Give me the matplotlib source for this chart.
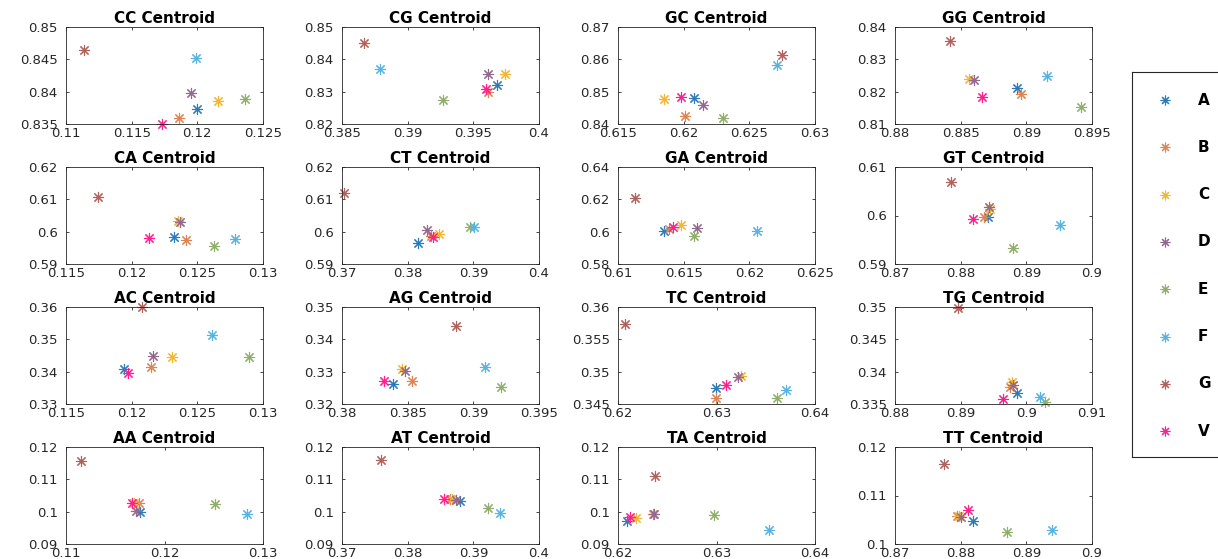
import matplotlib
matplotlib.use('Agg')
import matplotlib.pyplot as plt

# series (same order in every panel)
labels = ['A', 'B', 'C', 'D', 'E', 'F', 'G', 'V']
colors = ['#2b7bba', '#dd8452', '#f2b632', '#94698f', '#8fae6a',
          '#56b4e5', '#b0625c', '#ff1f8f']

titles = ['CC', 'CG', 'GC', 'GG', 'CA', 'CT', 'GA', 'GT',
          'AC', 'AG', 'TC', 'TG', 'AA', 'AT', 'TA', 'TT']

cc_x = [0.1200, 0.1186, 0.1216, 0.1195, 0.1236, 0.1199, 0.1114, 0.1173]
cc_y = [0.8373, 0.8360, 0.8385, 0.8398, 0.8389, 0.8452, 0.8465, 0.8350]
cg_x = [0.3968, 0.3961, 0.3974, 0.3961, 0.3927, 0.3879, 0.3867, 0.3960]
cg_y = [0.8322, 0.8298, 0.8355, 0.8356, 0.8274, 0.8371, 0.8450, 0.8308]
gc_x = [0.6208, 0.6201, 0.6185, 0.6215, 0.6230, 0.6271, 0.6275, 0.6198]
gc_y = [0.8480, 0.8425, 0.8477, 0.8458, 0.8419, 0.8581, 0.8614, 0.8482]
gg_x = [0.8893, 0.8896, 0.8856, 0.8860, 0.8942, 0.8916, 0.8842, 0.8866]
gg_y = [0.8212, 0.8194, 0.8239, 0.8237, 0.8154, 0.8247, 0.8357, 0.8184]
ca_x = [0.1232, 0.1241, 0.1235, 0.1237, 0.1263, 0.1279, 0.1174, 0.1213]
ca_y = [0.5983, 0.5973, 0.6033, 0.6030, 0.5957, 0.5978, 0.6106, 0.5981]
ct_x = [0.3815, 0.3835, 0.3848, 0.3830, 0.3895, 0.3901, 0.3703, 0.3839]
ct_y = [0.5966, 0.5987, 0.5992, 0.6006, 0.6014, 0.6014, 0.6119, 0.5985]
ga_x = [0.6135, 0.6139, 0.6148, 0.6160, 0.6158, 0.6206, 0.6113, 0.6142]
ga_y = [0.6007, 0.6015, 0.6040, 0.6021, 0.5972, 0.6007, 0.6208, 0.6026]
gt_x = [0.8841, 0.8836, 0.8845, 0.8843, 0.8879, 0.8951, 0.8785, 0.8819]
gt_y = [0.5997, 0.5997, 0.6014, 0.6018, 0.5934, 0.5981, 0.6070, 0.5992]
ac_x = [0.1194, 0.1215, 0.1231, 0.1216, 0.1289, 0.1261, 0.1208, 0.1197]
ac_y = [0.3407, 0.3413, 0.3445, 0.3449, 0.3446, 0.3512, 0.3599, 0.3395]
ag_x = [0.3839, 0.3853, 0.3846, 0.3848, 0.3921, 0.3909, 0.3887, 0.3832]
ag_y = [0.3261, 0.3271, 0.3309, 0.3302, 0.3252, 0.3313, 0.3441, 0.3272]
tc_x = [0.6299, 0.6299, 0.6325, 0.6322, 0.6361, 0.6371, 0.6207, 0.6310]
tc_y = [0.3475, 0.3459, 0.3494, 0.3491, 0.3459, 0.3472, 0.3574, 0.3479]
tg_x = [0.8986, 0.8975, 0.8978, 0.8980, 0.9028, 0.9021, 0.8896, 0.8964]
tg_y = [0.3367, 0.3376, 0.3384, 0.3379, 0.3353, 0.3361, 0.3499, 0.3358]
aa_x = [0.1175, 0.1174, 0.1169, 0.1171, 0.1251, 0.1284, 0.1115, 0.1167]
aa_y = [0.0999, 0.1027, 0.1027, 0.1002, 0.1024, 0.0993, 0.1157, 0.1027]
at_x = [0.3879, 0.3865, 0.3868, 0.3874, 0.3922, 0.3940, 0.3760, 0.3856]
at_y = [0.1033, 0.1039, 0.1039, 0.1037, 0.1011, 0.0996, 0.1160, 0.1039]
ta_x = [0.6209, 0.6236, 0.6218, 0.6237, 0.6297, 0.6353, 0.6238, 0.6212]
ta_y = [0.0971, 0.0993, 0.0980, 0.0993, 0.0990, 0.0943, 0.1110, 0.0984]
tt_x = [0.8819, 0.8794, 0.8797, 0.8800, 0.8871, 0.8939, 0.8775, 0.8811]
tt_y = [0.1047, 0.1058, 0.1058, 0.1056, 0.1025, 0.1029, 0.1165, 0.1070]

# tick values per panel (first/last = axis limits)
xticks = [[0.11, 0.115, 0.12, 0.125], [0.385, 0.39, 0.395, 0.4],
          [0.615, 0.62, 0.625, 0.63], [0.88, 0.885, 0.89, 0.895],
          [0.115, 0.12, 0.125, 0.13], [0.37, 0.38, 0.39, 0.4],
          [0.61, 0.615, 0.62, 0.625], [0.87, 0.88, 0.89, 0.9],
          [0.115, 0.12, 0.125, 0.13], [0.38, 0.385, 0.39, 0.395],
          [0.62, 0.63, 0.64], [0.88, 0.89, 0.9, 0.91],
          [0.11, 0.12, 0.13], [0.37, 0.38, 0.39, 0.4],
          [0.62, 0.63, 0.64], [0.87, 0.88, 0.89, 0.9]]
yticks = [[0.835, 0.84, 0.845, 0.85], [0.82, 0.83, 0.84, 0.85],
          [0.84, 0.85, 0.86, 0.87], [0.81, 0.82, 0.83, 0.84],
          [0.59, 0.6, 0.61, 0.62], [0.59, 0.6, 0.61, 0.62],
          [0.58, 0.6, 0.62, 0.64], [0.59, 0.6, 0.61],
          [0.33, 0.34, 0.35, 0.36], [0.32, 0.33, 0.34, 0.35],
          [0.345, 0.35, 0.355, 0.36], [0.335, 0.34, 0.345, 0.35],
          [0.09, 0.1, 0.11, 0.12], [0.09, 0.1, 0.11, 0.12],
          [0.09, 0.1, 0.11, 0.12], [0.1, 0.11, 0.12]]

xs = [cc_x, cg_x, gc_x, gg_x, ca_x, ct_x, ga_x, gt_x,
      ac_x, ag_x, tc_x, tg_x, aa_x, at_x, ta_x, tt_x]
ys = [cc_y, cg_y, gc_y, gg_y, ca_y, ct_y, ga_y, gt_y,
      ac_y, ag_y, tc_y, tg_y, aa_y, at_y, ta_y, tt_y]

W, H = 1218, 559
fig = plt.figure(figsize=(W / 100, H / 100), dpi=100)

col_left = [66, 342, 618, 895]
row_top = [27, 167, 307, 447]
aw, ah = 197, 97
star = (8, 2, 0)  # 8-spoke asterisk, like matlab '*'
axcol = '#262626'


def fmt(v):
    return ('%g' % v)


for k in range(16):
    r, c = divmod(k, 4)
    ax = fig.add_axes([col_left[c] / W, 1 - (row_top[r] + ah) / H, aw / W, ah / H])
    for i in range(len(labels)):
        ax.plot(xs[k][i], ys[k][i], linestyle='none', marker=star,
                ms=8, mew=0.8, color=colors[i], clip_on=False)
    ax.set_xlim(xticks[k][0], xticks[k][-1])
    ax.set_ylim(yticks[k][0], yticks[k][-1])
    ax.set_xticks(xticks[k])
    ax.set_xticklabels([fmt(v) for v in xticks[k]])
    ax.set_yticks(yticks[k])
    ax.set_yticklabels([fmt(v) for v in yticks[k]])
    ax.tick_params(direction='in', length=2.5, width=0.6, top=True, right=True,
                   labelsize=9.5, colors=axcol)
    ax.tick_params(axis='x', pad=2.5)
    ax.tick_params(axis='y', pad=6)
    for s in ax.spines.values():
        s.set_color(axcol)
        s.set_linewidth(0.6)
    ax.set_title(titles[k] + ' Centroid', fontsize=11, fontweight='bold', pad=3)

# legend box drawn by hand so the entries line up with the reference
lg = fig.add_axes([1132 / W, 1 - 457 / H, 95 / W, 385 / H])
lg.set_xlim(0, 95)
lg.set_ylim(457, 72)
lg.set_xticks([])
lg.set_yticks([])
for s in lg.spines.values():
    s.set_color(axcol)
    s.set_linewidth(0.8)
for i, lab in enumerate(labels):
    yy = 100 + i * 47.3
    lg.plot(33, yy, linestyle='none', marker=star, ms=7, mew=0.8, color=colors[i])
    lg.text(66, yy, lab, fontsize=11, fontweight='bold', va='center', ha='left')

fig.savefig('out.png', dpi=100)
